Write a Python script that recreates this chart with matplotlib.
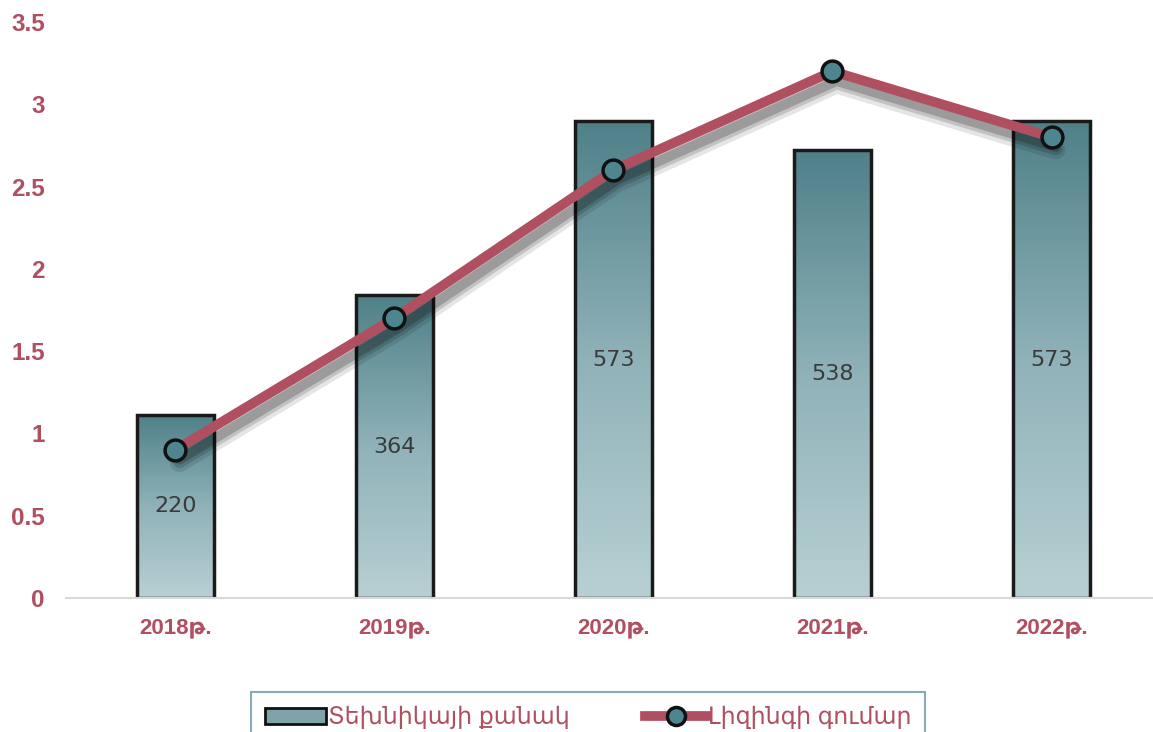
import numpy as np
import matplotlib
matplotlib.use("Agg")
import matplotlib.pyplot as plt
import matplotlib.transforms as mtransforms
from matplotlib.patches import Patch
from matplotlib.lines import Line2D

plt.rcParams["font.family"] = ["Liberation Sans", "DejaVu Sans"]

years = ["2018թ.", "2019թ.", "2020թ.", "2021թ.", "2022թ."]
counts = [220, 364, 573, 538, 573]
amounts = [0.9, 1.7, 2.6, 3.2, 2.8]
bar_name = "Տեխնիկայի քանակ"
line_name = "Լիզինգի գումար"

red = "#b04f5f"
teal = "#4e8690"

fig = plt.figure(figsize=(11.53, 7.32), dpi=100)
ax = fig.add_axes([0.057, 0.183, 0.95, 0.787])
ax2 = ax.twinx()

x = np.arange(len(years))

# bars on hidden right scale
bars = ax2.bar(x, counts, width=0.35, facecolor="none", edgecolor="#1a1a1a",
               linewidth=2.5, zorder=2)
grad = np.linspace(0, 1, 256).reshape(-1, 1)
cmap = matplotlib.colors.LinearSegmentedColormap.from_list(
    "tl", ["#b8d0d3", "#8fb2b8", "#4f8088"])
for b in bars:
    x0, w, h = b.get_x(), b.get_width(), b.get_height()
    im = ax2.imshow(grad, cmap=cmap, extent=[x0, x0 + w, 0, h], origin="lower",
                    aspect="auto", zorder=1)
    im.set_clip_path(b)
for xi, c in zip(x, counts):
    ax2.text(xi, c / 2, str(c), ha="center", va="center", fontsize=16,
             color="#3a3a3a", family=["DejaVu Sans"], zorder=3)
ax2.set_ylim(0, 692)
ax2.axis("off")

ax.set_zorder(ax2.get_zorder() + 1)
ax.patch.set_visible(False)

# soft shadow under the line
for dy, a, lw in [(-9, 0.10, 14), (-8, 0.15, 10), (-7, 0.2, 7)]:
    off = mtransforms.offset_copy(ax.transData, fig=fig, x=3, y=dy, units="points")
    ax.plot(x, amounts, color="k", lw=lw, alpha=a, transform=off,
            solid_capstyle="round", solid_joinstyle="round", zorder=1)
ax.plot(x, amounts, color=red, lw=7, marker="o", ms=15, mfc=teal, mec="#111111",
        mew=2.5, solid_capstyle="round", zorder=3)

ax.set_xlim(-0.5, 4.5)
ax.set_ylim(0, 3.5)
ax.set_yticks(np.arange(0, 3.51, 0.5))
ax.set_yticklabels(["0", "0.5", "1", "1.5", "2", "2.5", "3", "3.5"])
ax.set_xticks(x)
ax.set_xticklabels(years)
ax.tick_params(axis="y", length=0, labelsize=17.5, labelcolor=red, pad=15)
ax.tick_params(axis="x", length=0, labelsize=16, labelcolor=red, pad=14)
for lab in ax.get_xticklabels() + ax.get_yticklabels():
    lab.set_fontweight("bold")
for s in ["top", "right", "left"]:
    ax.spines[s].set_visible(False)
ax.spines["bottom"].set_color("#d9d9d9")
ax.spines["bottom"].set_linewidth(1.5)

handles = [Patch(facecolor="#7fa3a9", edgecolor="#111111", linewidth=2),
           Line2D([0], [0], color=red, lw=7, marker="o", ms=13, mfc=teal,
                  mec="#111111", mew=2.5)]
leg = fig.legend(handles, [bar_name, line_name], loc="upper center",
                 bbox_to_anchor=(0.51, 0.055), borderaxespad=0, ncol=2,
                 fontsize=17, frameon=True, fancybox=False, borderpad=0.6,
                 handlelength=2.6, columnspacing=3.2, handletextpad=0.05)
leg._legend_box.sep = 0
leg.get_frame().set_edgecolor("#6a98a0")
leg.get_frame().set_linewidth(1.5)
for t in leg.get_texts():
    t.set_color(red)

fig.savefig("out.png", dpi=100)
